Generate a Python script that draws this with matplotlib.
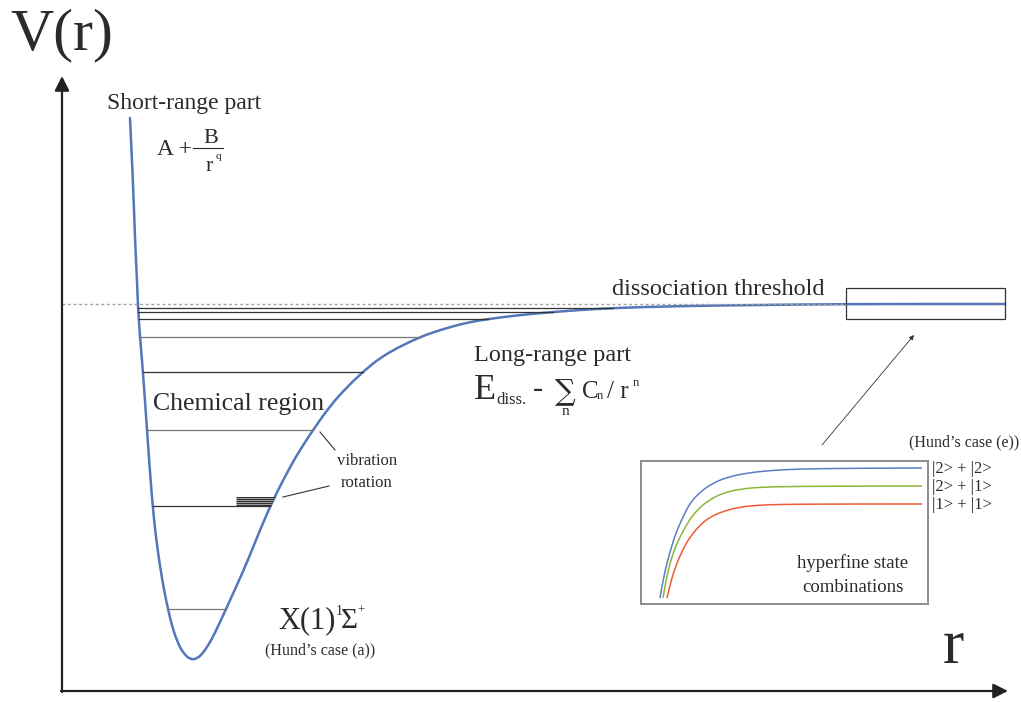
"""Schematic of a molecular potential curve V(r) with a hyperfine inset"""

import matplotlib

matplotlib.use("Agg")
import matplotlib.pyplot as plt
import numpy as np
from matplotlib.patches import PathPatch
from matplotlib.path import Path

plt.rcParams["font.family"] = ["Liberation Serif", "DejaVu Serif"]

# potential curve (pixel units, y grows downwards)
left_r = [130, 133, 135, 137, 138, 140, 143, 147, 152, 156, 160, 164, 168, 172, 177, 183, 191]
left_v = [118, 180, 240, 280, 308, 337, 372, 430, 500, 538, 566, 590, 609, 626, 641, 653, 660]
right_r = [191, 198, 203, 209, 215, 226, 237, 248, 260, 273, 290, 300, 313, 330, 347, 365,
           380, 397, 420, 440, 465, 488, 520, 553, 580, 613, 680, 760, 846, 1005]
right_v = [660, 658, 653, 644, 633, 609, 585, 560, 530, 500, 467, 450, 430, 406, 387, 370,
           358, 348, 337, 330, 323, 319, 315, 312, 310, 308, 306, 305, 304, 304]

# vibrational levels and their shade
levels = [308, 312, 319, 337, 372, 430, 506, 609]
level_colors = ["#333333", "#333333", "#333333", "#777777",
                "#333333", "#777777", "#333333", "#777777"]
rot_levels = [496.5, 497.5, 498.5, 499.5, 500.5, 501.5, 502.5, 503.5, 504.5]
rot_colors = ["#333333", "#9a9a9a"] * 4 + ["#333333"]
threshold = 303.5

# inset: hyperfine channels
blue_r = [660, 663, 667, 672, 677, 684, 690, 700, 713, 728, 747, 770, 797, 850, 922]
blue_v = [598, 580, 563, 545, 530, 515, 503, 492, 483, 477, 473, 470.5, 469, 468.3, 468]
green_r = [663, 666, 670, 675, 680, 688, 697, 709, 723, 740, 763, 800, 860, 922]
green_v = [598, 580, 563, 548, 537, 522, 510, 500, 493, 489, 487, 486.4, 486.1, 486]
red_r = [667, 671, 677, 683, 690, 700, 710, 724, 740, 758, 780, 820, 880, 922]
red_v = [598, 580, 563, 549, 537, 525, 517, 511, 507, 505.2, 504.4, 504.1, 504, 504]
channel_labels = ["|2> + |2>", "|2> + |1>", "|1> + |1>"]

text_c = "#2b2b2b"
curve_c = "#5377b9"


def smooth_curve(ax, xs, ys, **kw):
    """Quadratic Bezier through the midpoints of the read points."""
    pts = np.column_stack([xs, ys]).astype(float)
    verts = [pts[0]]
    codes = [Path.MOVETO]
    for i in range(1, len(pts) - 1):
        mid = (pts[i] + pts[i + 1]) / 2
        verts += [pts[i], mid]
        codes += [Path.CURVE3, Path.CURVE3]
    verts.append(pts[-1])
    codes.append(Path.LINETO)
    ax.add_patch(PathPatch(Path(verts, codes), fill=False, **kw))


fig = plt.figure(figsize=(10.21, 7.02), dpi=100)
ax = fig.add_axes([0, 0, 1, 1])
ax.set_xlim(0, 1021)
ax.set_ylim(702, 0)
ax.axis("off")

# axes with arrows
ax.annotate("", xy=(62, 76), xytext=(62, 692),
            arrowprops=dict(arrowstyle="-|>", color="#222222", lw=1.6,
                            mutation_scale=22, shrinkA=0, shrinkB=0))
ax.annotate("", xy=(1008, 691), xytext=(61, 691),
            arrowprops=dict(arrowstyle="-|>", color="#222222", lw=1.6,
                            mutation_scale=22, shrinkA=0, shrinkB=0))

# dissociation threshold
ax.plot([62, 846], [threshold, threshold], color="#a0a0a0", lw=1.0,
        linestyle=(0, (2, 2)))

# vibrational levels between the two branches
left_arr_r, left_arr_v = np.array(left_r), np.array(left_v)
right_arr_r, right_arr_v = np.array(right_r), np.array(right_v)
for lv, c in zip(levels, level_colors):
    x0 = np.interp(lv, left_arr_v, left_arr_r)
    x1 = np.interp(lv, right_arr_v[::-1], right_arr_r[::-1])
    ax.plot([x0, x1], [lv, lv], color=c, lw=0.9)

# rotational ladder
for lv, c in zip(rot_levels, rot_colors):
    x1 = np.interp(lv, right_arr_v[::-1], right_arr_r[::-1])
    ax.plot([236, x1], [lv, lv], color=c, lw=0.72, solid_capstyle="butt")

# potential curve
smooth_curve(ax, left_r + right_r[1:], left_v + right_v[1:], ec=curve_c, lw=1.8,
             capstyle="round", joinstyle="round")

# box around the threshold region
ax.add_patch(plt.Rectangle((846, 288), 159, 31, fill=False, ec="#333333", lw=0.9))
ax.annotate("", xy=(914, 335), xytext=(822, 445),
            arrowprops=dict(arrowstyle="-|>", color="#333333", lw=0.6,
                            mutation_scale=7, shrinkA=0, shrinkB=0))

# leaders for vibration / rotation
ax.plot([320, 335], [432, 450], color="#333333", lw=0.8)
ax.plot([283, 329], [497, 486], color="#333333", lw=0.8)

# texts
ax.text(10, 49, "V(r)", fontsize=43, color=text_c, ha="left", va="baseline")
ax.text(953, 663, "r", fontsize=46, color=text_c, ha="center", va="baseline")
ax.text(107, 109, "Short-range part", fontsize=17, color=text_c, va="baseline")
ax.text(157, 155, "A +", fontsize=17, color=text_c, va="baseline")
ax.plot([193, 223], [148, 148], color=text_c, lw=0.8)
ax.text(211, 143, "B", fontsize=16, color=text_c, ha="center", va="baseline")
ax.text(209, 171, "r", fontsize=16, color=text_c, ha="center", va="baseline")
ax.text(216, 159, "q", fontsize=8, color=text_c, ha="left", va="baseline")
ax.text(153, 410, "Chemical region", fontsize=18.5, color=text_c, va="baseline")
ax.text(367, 465, "vibration", fontsize=12, color=text_c, ha="center", va="baseline")
ax.text(367, 487, "rotation", fontsize=12, color=text_c, ha="center", va="baseline")
ax.text(612, 295, "dissociation threshold", fontsize=17.5, color=text_c, va="baseline")
ax.text(474, 361, "Long-range part", fontsize=17.5, color=text_c, va="baseline")

# E_diss. - sum_n C_n / r^n
ax.text(474, 399, "E", fontsize=26, color=text_c, va="baseline")
ax.text(496, 404, "diss.", fontsize=12, color=text_c, va="baseline")
ax.text(533, 397, "-", fontsize=22, color=text_c, va="baseline")
ax.text(565, 399, "\u2211", fontsize=21, color=text_c, ha="center", va="baseline",
        family=["DejaVu Serif"])
ax.text(565, 415, "n", fontsize=11, color=text_c, ha="center", va="baseline")
ax.text(582, 398, "C", fontsize=18, color=text_c, va="baseline")
ax.text(597, 399, "n", fontsize=9, color=text_c, va="baseline")
ax.text(607, 398, "/ r", fontsize=18, color=text_c, va="baseline")
ax.text(633, 386, "n", fontsize=9, color=text_c, va="baseline")

# X(1) 1Sigma+
ax.text(278, 628, "X(1)", fontsize=22, color=text_c, va="baseline")
ax.text(336, 615, "1", fontsize=10, color=text_c, va="baseline")
ax.text(341, 628, "\u03a3", fontsize=21, color=text_c, va="baseline")
ax.text(357, 614, "+", fontsize=9, color=text_c, va="baseline")
ax.text(320, 654, "(Hund\u2019s case (a))", fontsize=11.5, color=text_c,
        ha="center", va="baseline")

# inset
ax.add_patch(plt.Rectangle((641, 461), 287, 143, fill=False, ec="#8c8c8c", lw=1.4))
smooth_curve(ax, blue_r, blue_v, ec="#5a7ec0", lw=1.1)
smooth_curve(ax, green_r, green_v, ec="#8fb43a", lw=1.1)
smooth_curve(ax, red_r, red_v, ec="#ee5a35", lw=1.1)
for lbl, yv in zip(channel_labels, [blue_v[-1], green_v[-1], red_v[-1]]):
    ax.text(932, yv + 5, lbl, fontsize=12, color=text_c, va="baseline")
ax.text(1019, 446, "(Hund\u2019s case (e))", fontsize=11.5, color=text_c,
        ha="right", va="baseline")
ax.text(853, 568, "hyperfine state", fontsize=13.5, color=text_c, ha="center", va="baseline")
ax.text(853, 592, "combinations", fontsize=13.5, color=text_c, ha="center", va="baseline")

fig.savefig("out.png", dpi=100)
